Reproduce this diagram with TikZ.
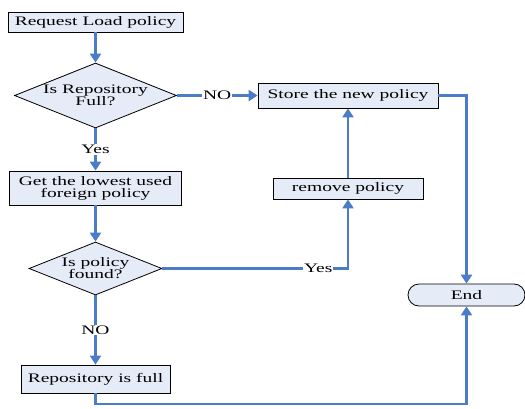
\documentclass[tikz,border=0pt]{standalone}
\usepackage{fontspec}
\setmainfont[FakeStretch=1.5]{Liberation Serif}
\usepackage{tikz}
\usetikzlibrary{arrows.meta,shapes.geometric,positioning}
\definecolor{flowblue}{RGB}{74,124,200}
\definecolor{boxfill}{RGB}{230,236,247}

\begin{document}
\begin{tikzpicture}[x=1pt, y=-1pt, font=\fontsize{13}{12}\selectfont,
        box/.style = {rectangle, draw, line width=0.8pt, fill=boxfill, inner sep=0pt, align=center},
        decide/.style = {diamond, draw, line width=0.8pt, fill=boxfill, inner sep=0pt, align=center, shape aspect=2.5},
        flow/.style = {draw=flowblue, line width=2.8pt, -{Triangle[width=11pt,length=9pt]}},
        lbl/.style = {fill=white, inner sep=1pt}]
            \useasboundingbox (0,0) rectangle (525,408);
            \node [box, minimum width=175pt, minimum height=20pt] (req) at (95.5,22) {Request Load policy};
            \node [decide, minimum width=162pt, minimum height=65pt] (full) at (95.5,95.5) {Is Repository\\Full?};
            \node [box, minimum width=172pt, minimum height=34pt] (get) at (95.5,188) {Get the lowest used\\foreign policy};
            \node [decide, minimum width=133pt, minimum height=53pt] (found) at (95.5,268.5) {Is policy\\found?};
            \node [box, minimum width=149pt, minimum height=28pt] (repfull) at (95.5,379) {Repository is full};
            \node [box, minimum width=180pt, minimum height=25pt] (store) at (348,95.5) {Store the new policy};
            \node [box, minimum width=150pt, minimum height=21pt] (remove) at (348,188.5) {remove policy};
            \node [box, rounded corners=11pt, minimum width=117pt, minimum height=22pt] (end) at (466.5,295) {End};
            \coordinate (turn) at (466.5,404);

            \draw [flow] (req) -- (full);
            \draw [flow] (full) -- node [lbl] {NO} (store);
            \draw [flow] (full) -- node [lbl] {Yes} (get);
            \draw [flow] (get) -- (found);
            \draw [flow] (found) -- node [lbl] {NO} (repfull);
            \draw [flow] (found) -| node [lbl, pos=0.42] {Yes} (remove);
            \draw [flow] (remove) -- (store);
            \draw [flow] (store) -| (end);
            \draw [flow] (repfull) |- (turn) -- (end);
        \end{tikzpicture}
\end{document}
